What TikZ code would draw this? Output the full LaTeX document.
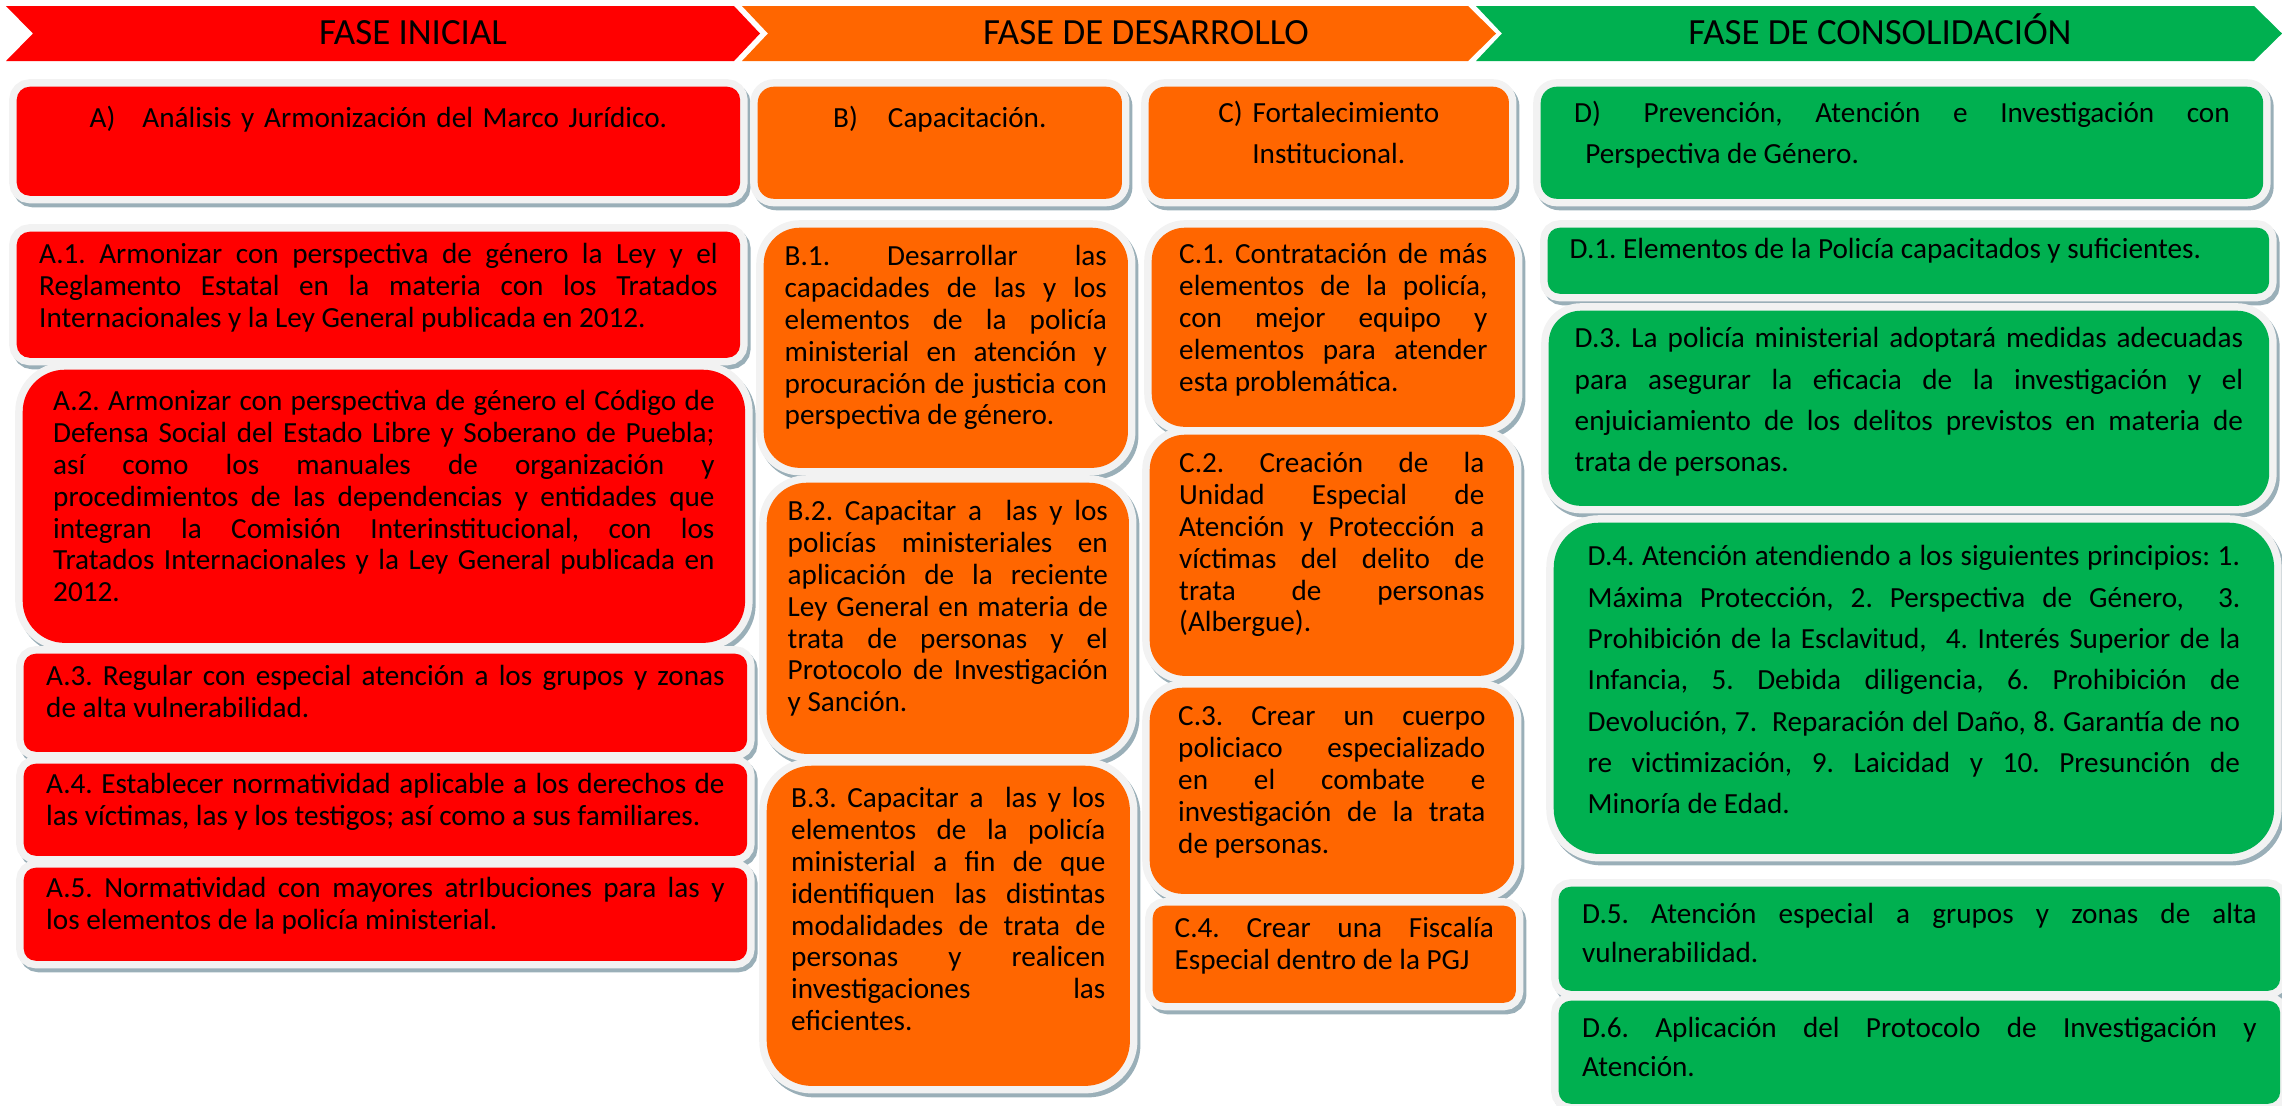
\documentclass[tikz,border=0pt]{standalone}
\usepackage{fontspec}
\setmainfont{Carlito}
\usetikzlibrary{positioning}
\usepackage{xcolor}
\definecolor{faseRed}{HTML}{FF0000}
\definecolor{faseOrange}{HTML}{FF6600}
\definecolor{faseGreen}{HTML}{00B050}
\definecolor{frameGray}{HTML}{F2F2F2}
\definecolor{shadowGray}{HTML}{9AAFB8}
\tolerance=10000
\hyphenpenalty=10000
\frenchspacing

\begin{document}
\begin{tikzpicture}[
    x=0.01cm, y=-0.01cm,
    phase/.style={
        font=\fontsize{10.5pt}{12pt}\selectfont,
        anchor=base,
        inner sep=0pt
    },
    item/.style={
        rectangle,
        anchor=north west,
        rounded corners=0.12cm,
        preaction={draw=shadowGray, line width=0.15cm,
            transform canvas={shift={(0.03cm,-0.04cm)}}},
        preaction={draw=frameGray, line width=0.15cm},
        fill=#1,
        inner xsep=0pt,
        inner ysep=0.1cm,
        align=justify,
        font=\fontsize{8.3pt}{9.05pt}\selectfont
    },
    colA/.style={item=faseRed, minimum width=7.23cm, text width=6.78cm},
    colB/.style={item=faseOrange, minimum width=3.63cm},
    colD/.style={item=faseGreen, minimum width=7.21cm,
        font=\fontsize{8.3pt}{11.75pt}\selectfont}
]
\useasboundingbox (0,0) rectangle (2282,1105);

% Phases
\fill[faseRed] (6,6) -- (734,6) -- (760,33.5) -- (734,61) -- (6,61) -- (33,33.5) -- cycle;
\fill[faseOrange] (742,6) -- (1468,6) -- (1496,33.5) -- (1468,61) -- (742,61) -- (768,33.5) -- cycle;
\fill[faseGreen] (1476,6) -- (2254,6) -- (2282,33.5) -- (2254,61) -- (1476,61) -- (1502,33.5) -- cycle;
\node[phase] (fase1) at (413,44) {FASE INICIAL};
\node[phase] (fase2) at (1146,44) {FASE DE DESARROLLO};
\node[phase] (fase3) at (1880,44) {FASE DE CONSOLIDACIÓN};

% Headings
\node[colA, rounded corners=0.13cm, text width=7cm, align=center,
      text height=0.31cm, text depth=0.58cm] (secA) at (16,86)
    {A)\hspace{0.27cm}Análisis y Armonización del Marco Jurídico.};
\node[colB, minimum width=3.64cm, rounded corners=0.16cm, text width=3.4cm, align=center,
      text height=0.31cm, text depth=0.61cm] (secB) at (757,86)
    {B)\hspace{0.3cm}Capacitación.};
\node[colB, minimum width=3.60cm, rounded corners=0.16cm, text width=3.2cm, align=center,
      font=\fontsize{8.3pt}{11.7pt}\selectfont,
      text height=0.26cm, text depth=0.66cm] (secC) at (1148,86)
    {C) Fortalecimiento\\Institucional.};
\node[colD, minimum width=7.22cm, rounded corners=0.16cm, text width=6.55cm,
      font=\fontsize{8.3pt}{11.7pt}\selectfont,
      text height=0.26cm, text depth=0.66cm] (secD) at (1540,86)
    {D)\hspace{0.1cm} Prevención, Atención e Investigación con\linebreak
     \hspace*{0.11cm}Perspectiva de Género.};

% Column A
\node[colA, rounded corners=0.13cm, text height=0.22cm, text depth=0.84cm] (a1) at (16,231)
    {A.1. Armonizar con perspectiva de género la Ley y el\linebreak
     Reglamento Estatal en la materia con los Tratados\linebreak
     Internacionales y la Ley General publicada en 2012.};
\node[colA, minimum width=7.22cm, text width=6.61cm, rounded corners=0.42cm,
      text height=0.31cm, text depth=2.22cm] (a2) at (22,369)
    {A.2. Armonizar con perspectiva de género el Código de\linebreak
     Defensa Social del Estado Libre y Soberano de Puebla;\linebreak
     así como los manuales de organización y\linebreak
     procedimientos de las dependencias y entidades que\linebreak
     integran la Comisión Interinstitucional, con los\linebreak
     Tratados Internacionales y la Ley General publicada en\linebreak
     2012.};
\node[colA, text height=0.22cm, text depth=0.56cm] (a3) at (23,653)
    {A.3. Regular con especial atención a los grupos y zonas\linebreak
     de alta vulnerabilidad.};
\node[colA, text height=0.20cm, text depth=0.52cm] (a4) at (23,763)
    {A.4. Establecer normatividad aplicable a los derechos de\linebreak
     las víctimas, las y los testigos; así como a sus familiares.};
\node[colA, text height=0.20cm, text depth=0.53cm] (a5) at (23,867)
    {A.5. Normatividad con mayores atrIbuciones para las y\linebreak
     los elementos de la policía ministerial.};

% Column B
\node[colB, minimum width=3.64cm, text width=3.22cm, rounded corners=0.36cm,
      text height=0.28cm, text depth=1.92cm] (b1) at (763,227)
    {B.1. Desarrollar las\linebreak
     capacidades de las y los\linebreak
     elementos de la policía\linebreak
     ministerial en atención y\linebreak
     procuración de justicia con\linebreak
     perspectiva de género.};
\node[colB, minimum width=3.62cm, text width=3.20cm, rounded corners=0.40cm,
      text height=0.28cm, text depth=2.23cm] (b2) at (766,482)
    {B.2. Capacitar a\ \ las y los\linebreak
     policías ministeriales en\linebreak
     aplicación de la reciente\linebreak
     Ley General en materia de\linebreak
     trata de personas y el\linebreak
     Protocolo de Investigación\linebreak
     y Sanción.};
\node[colB, text width=3.14cm, rounded corners=0.45cm,
      text height=0.32cm, text depth=2.68cm] (b3) at (766,765)
    {B.3. Capacitar a\ \ las y los\linebreak
     elementos de la policía\linebreak
     ministerial a fin de que\linebreak
     identifiquen las distintas\linebreak
     modalidades de trata de\linebreak
     personas y realicen\linebreak
     investigaciones las\linebreak
     eficientes.};

% Column C
\node[colB, text width=3.08cm, rounded corners=0.33cm,
      text height=0.26cm, text depth=1.53cm] (c1) at (1151,227)
    {C.1. Contratación de más\linebreak
     elementos de la policía,\linebreak
     con mejor equipo y\linebreak
     elementos para atender\linebreak
     esta problemática.};
\node[colB, minimum width=3.64cm, text width=3.05cm, rounded corners=0.35cm,
      text height=0.28cm, text depth=1.93cm] (c2) at (1149,434)
    {C.2. Creación de la\linebreak
     Unidad Especial de\linebreak
     Atención y Protección a\linebreak
     víctimas del delito de\linebreak
     trata de personas\linebreak
     (Albergue).};
\node[colB, minimum width=3.64cm, text width=3.07cm, rounded corners=0.33cm,
      text height=0.28cm, text depth=1.58cm] (c3) at (1149,687)
    {C.3. Crear un cuerpo\linebreak
     policiaco especializado\linebreak
     en el combate e\linebreak
     investigación de la trata\linebreak
     de personas.};
\node[colB, text width=3.19cm,
      text height=0.22cm, text depth=0.55cm] (c4) at (1152,905)
    {C.4. Crear una Fiscalía\linebreak
     Especial dentro de la PGJ};

% Column D
\node[colD, text width=6.77cm, text height=0.21cm, text depth=0.25cm] (d1) at (1547,227)
    {D.1. Elementos de la Policía capacitados y suficientes.};
\node[colD, minimum width=7.20cm, text width=6.68cm, rounded corners=0.32cm,
      text height=0.27cm, text depth=1.48cm] (d3) at (1548,310)
    {D.3. La policía ministerial adoptará medidas adecuadas\linebreak
     para asegurar la eficacia de la investigación y el\linebreak
     enjuiciamiento de los delitos previstos en materia de\linebreak
     trata de personas.};
\node[colD, minimum width=7.20cm, text width=6.52cm, rounded corners=0.45cm,
      text height=0.33cm, text depth=2.78cm] (d4) at (1553,522)
    {D.4. Atención atendiendo a los siguientes principios: 1.\linebreak
     Máxima Protección, 2. Perspectiva de Género,\ \ 3.\linebreak
     Prohibición de la Esclavitud,\ \ 4. Interés Superior de la\linebreak
     Infancia, 5. Debida diligencia, 6. Prohibición de\linebreak
     Devolución, 7.\ \ Reparación del Daño, 8. Garantía de no\linebreak
     re victimización, 9. Laicidad y 10. Presunción de\linebreak
     Minoría de Edad.};
\node[colD, text width=6.74cm, font=\fontsize{8.3pt}{10.95pt}\selectfont,
      text height=0.27cm, text depth=0.57cm] (d5) at (1558,886)
    {D.5. Atención especial a grupos y zonas de alta\linebreak
     vulnerabilidad.};
\node[colD, text width=6.74cm, font=\fontsize{8.3pt}{10.95pt}\selectfont,
      text height=0.27cm, text depth=0.56cm] (d6) at (1558,1000)
    {D.6. Aplicación del Protocolo de Investigación y\linebreak
     Atención.};

\end{tikzpicture}
\end{document}
